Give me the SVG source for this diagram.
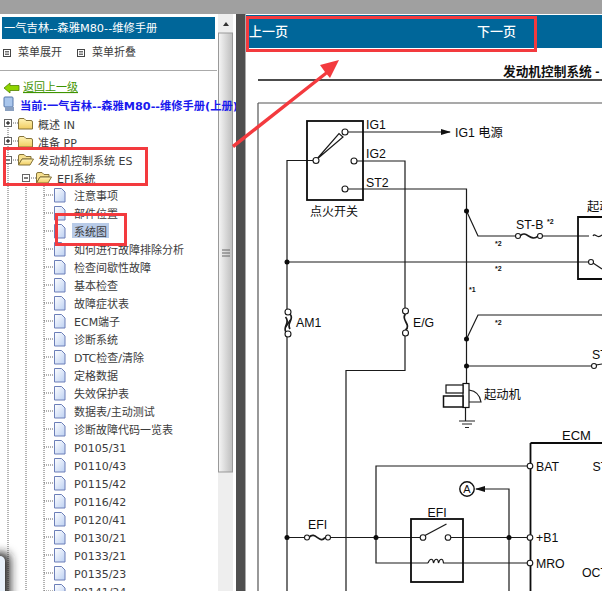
<svg xmlns="http://www.w3.org/2000/svg" width="602" height="591" viewBox="0 0 602 591">
<defs>
<linearGradient id="pg" x1="0" y1="0" x2="1" y2="1"><stop offset="0" stop-color="#ffffff"/><stop offset="1" stop-color="#bcd0f2"/></linearGradient>
<linearGradient id="fg" x1="0" y1="0" x2="0" y2="1"><stop offset="0" stop-color="#fff4b8"/><stop offset="1" stop-color="#f0cc60"/></linearGradient>
<linearGradient id="sb" x1="0" y1="0" x2="1" y2="0"><stop offset="0" stop-color="#f6f6f6"/><stop offset="1" stop-color="#bdbdbd"/></linearGradient>
<filter id="blur" x="-100%" y="-20%" width="300%" height="140%"><feGaussianBlur stdDeviation="5"/></filter>
<g id="page"><path d="M.5 .5H7.5L11 4V14H.5Z" fill="url(#pg)" stroke="#6c7fb8"/></g>
<g id="folder"><path d="M.5 3Q.5 1.500 2 1.500H6L8 3.500H13Q14.500 3.500 14.500 5V12H.5Z" fill="url(#fg)" stroke="#85733a"/></g>
<g id="ofolder"><path d="M.5 12V3Q.5 1.500 2 1.500H6L8 3.500H13V6H4Z" fill="#f7e08e" stroke="#85733a"/><path d="M.5 12L4 6H15.500L12 12Z" fill="url(#fg)" stroke="#85733a"/></g>
<g id="plus"><rect x=".5" y=".5" width="7" height="7" fill="#fff" stroke="#666"/><path d="M2 4H6M4 2V6" stroke="#000"/></g>
<g id="minus"><rect x=".5" y=".5" width="7" height="7" fill="#fff" stroke="#666"/><path d="M2 4H6" stroke="#000"/></g>
<g id="menuic"><rect x=".5" y=".5" width="7" height="7" fill="#fff" stroke="#444"/><path d="M2 2.500H6M2 4H6M2 5.500H6" stroke="#333" stroke-width=".7"/></g>
<marker id="ah" markerWidth="10" markerHeight="6" refX="9" refY="3" orient="auto" markerUnits="userSpaceOnUse"><path d="M0 0L10 3L0 6Z" fill="#111"/></marker>
</defs>
<style>
text{font-family:"Liberation Sans","Noto Sans CJK SC",sans-serif}
.t,.tn{font-size:11px;fill:#3c3c3c;font-family:"DejaVu Sans","Noto Sans CJK SC",sans-serif}
.w{fill:none;stroke:#1a1a1a;stroke-width:1.2}
.b{fill:none;stroke:#0c0c0c;stroke-width:1.8}
.g{fill:none;stroke:#555;stroke-width:1.2}
.o{fill:#fff;stroke:#1a1a1a;stroke-width:1.1}
.d{fill:#0c0c0c}
.l{font-size:12.3px;fill:#0c0c0c}
.s{font-size:7px;font-weight:bold;fill:#111}
.dot{fill:none;stroke:#666;stroke-width:1;stroke-dasharray:1 1}
.red{fill:none;stroke:#f33a3e;stroke-width:3}
.fz{fill:none;stroke:#1a1a1a;stroke-width:1.700}
</style>
<rect width="602" height="591" fill="#fff"/>
<rect width="602" height="14" fill="#a0a0a0"/>
<g id="sidebar">
<rect x="2" y="17" width="213" height="22" fill="#006699"/>
<text x="4" y="32" font-size="11.3" fill="#fff" style="font-family:'DejaVu Sans','Noto Sans CJK SC',sans-serif">一气吉林--森雅M80--维修手册</text>
<use href="#menuic" x="3" y="49"/><text x="18" y="56" class="t">菜单展开</text>
<use href="#menuic" x="77" y="49"/><text x="92" y="56" class="t">菜单折叠</text>
<rect x="0" y="70" width="217" height="1" fill="#aaa"/>
<path d="M4 88L10 83V85.500H19V90.500H10V93Z" fill="#8fd400" stroke="#4f8000" stroke-width=".8"/>
<text x="23" y="91" class="t" style="fill:#3f9400;text-decoration:underline">返回上一级</text>
<rect x="4" y="97" width="9" height="10" rx="1" fill="#a9c6ec" stroke="#5577aa"/><rect x="5" y="107" width="9" height="4" fill="#8aa0c0"/>
<rect x="218" y="14" width="15" height="577" fill="#eeeeee"/>
<path d="M223 26L226 22L229 26Z" fill="#333"/>
<rect x="218.500" y="33" width="14" height="439" fill="url(#sb)" stroke="#999"/>
<path d="M222 250H230M222 253H230M222 256H230" stroke="#666"/>
<text x="20" y="110" font-size="11.25" font-weight="bold" fill="#1a1aee" style="font-family:'DejaVu Sans','Noto Sans CJK SC',sans-serif">当前:一气吉林--森雅M80--维修手册(上册)</text>
<path class="dot" d="M8 126V591M26 181V591M44 186V591"/>
<path class="dot" d="M11 123H18M11 141H18M11 160H18M29 178H36M44 195H54M44 213H54M44 231H54M44 249H54M44 267H54M44 285H54M44 303H54M44 321H54M44 339H54M44 357H54M44 375H54M44 393H54M44 411H54M44 429H54M44 447H54M44 465H54M44 483H54M44 501H54M44 519H54M44 537H54M44 555H54M44 573H54M44 591H54"/>
<use href="#plus" x="4" y="119"/><use href="#folder" x="18" y="117"/><text x="38" y="129" class="tn">概述 IN</text>
<use href="#plus" x="4" y="137"/><use href="#folder" x="18" y="135"/><text x="38" y="147" class="tn">准备 PP</text>
<use href="#minus" x="4" y="156"/><use href="#ofolder" x="18" y="153"/><text x="38" y="165" class="tn">发动机控制系统 ES</text>
<use href="#minus" x="22" y="174"/><use href="#ofolder" x="36" y="171"/><text x="57" y="183" class="tn">EFI系统</text>
<use href="#page" x="54" y="188"/><text x="74" y="200" class="tn">注意事项</text>
<use href="#page" x="54" y="206"/><text x="74" y="218" class="tn">部件位置</text>
<use href="#page" x="54" y="224"/><rect x="72" y="223" width="37" height="15" fill="#b8cbe8"/><text x="74" y="236" class="tn">系统图</text>
<use href="#page" x="54" y="242"/><text x="74" y="254" class="tn">如何进行故障排除分析</text>
<use href="#page" x="54" y="260"/><text x="74" y="272" class="tn">检查间歇性故障</text>
<use href="#page" x="54" y="278"/><text x="74" y="290" class="tn">基本检查</text>
<use href="#page" x="54" y="296"/><text x="74" y="308" class="tn">故障症状表</text>
<use href="#page" x="54" y="314"/><text x="74" y="326" class="tn">ECM端子</text>
<use href="#page" x="54" y="332"/><text x="74" y="344" class="tn">诊断系统</text>
<use href="#page" x="54" y="350"/><text x="74" y="362" class="tn">DTC检查/清除</text>
<use href="#page" x="54" y="368"/><text x="74" y="380" class="tn">定格数据</text>
<use href="#page" x="54" y="386"/><text x="74" y="398" class="tn">失效保护表</text>
<use href="#page" x="54" y="404"/><text x="74" y="416" class="tn">数据表/主动测试</text>
<use href="#page" x="54" y="422"/><text x="74" y="434" class="tn">诊断故障代码一览表</text>
<use href="#page" x="54" y="440"/><text x="74" y="452" class="tn">P0105/31</text>
<use href="#page" x="54" y="458"/><text x="74" y="470" class="tn">P0110/43</text>
<use href="#page" x="54" y="476"/><text x="74" y="488" class="tn">P0115/42</text>
<use href="#page" x="54" y="494"/><text x="74" y="506" class="tn">P0116/42</text>
<use href="#page" x="54" y="512"/><text x="74" y="524" class="tn">P0120/41</text>
<use href="#page" x="54" y="530"/><text x="74" y="542" class="tn">P0130/21</text>
<use href="#page" x="54" y="548"/><text x="74" y="560" class="tn">P0133/21</text>
<use href="#page" x="54" y="566"/><text x="74" y="578" class="tn">P0135/23</text>
<use href="#page" x="54" y="584"/><text x="74" y="596" class="tn">P0141/24</text>
<rect x="-20" y="553" width="30" height="60" rx="6" fill="#222" filter="url(#blur)"/>
<rect x="-10" y="556" width="15" height="50" rx="5" fill="#e8f1fb"/>
</g>
<rect x="236" y="14" width="9" height="577" fill="#4f4f4f"/>
<rect x="245" y="14" width="1" height="577" fill="#aaa"/>
<g id="topbar">
<rect x="246" y="15" width="356" height="33" fill="#006699"/>
<text x="249" y="36" font-size="13" font-weight="500" fill="#fff" style="font-family:'Noto Sans CJK SC',sans-serif">上一页</text>
<text x="477" y="36" font-size="13" font-weight="500" fill="#fff" style="font-family:'Noto Sans CJK SC',sans-serif">下一页</text>
</g>
<g id="connectors">
<text x="503" y="76" font-size="12.7" fill="#111" font-weight="bold">发动机控制系统 -</text>
<path d="M258 80H602" stroke="#111" stroke-width="1.5"/>
<path class="g" d="M258 103H602M258 103V591"/>
<path class="w" d="M348 132H450" marker-end="url(#ah)"/>
<path class="w" d="M313 160.500H287V309M287 337V591M357 161H405V308M405 336V370.500H346V591"/>
<path class="w" d="M348 189H466.500V384"/>
<path class="w" d="M466.500 211L478 236H516M542 236H589"/>
<path class="w" d="M287 262H589"/>
<path class="w" d="M466.500 339L478 315H602"/>
<path class="w" d="M466.500 366H592"/>
<path class="w" d="M465.500 408V421"/>
<path class="w" d="M287 537.500H304M330 537.500H420M451 537.500H527"/>
<path class="w" d="M376 537.500V466H527M376 537.500V563H428M446 563H527"/>
<path class="w" d="M509 591V489H476" marker-end="url(#ah)"/>
</g>
<g id="ignition-switch">
<rect x="307" y="121" width="56" height="79" class="b"/>
<path class="w" d="M316 160L339 133.500L343 137Z"/>
<circle cx="345" cy="132" r="3" class="o"/><circle cx="316" cy="160.500" r="3" class="o"/><circle cx="354" cy="161" r="3" class="o"/><circle cx="345" cy="189" r="3" class="o"/>
<text x="366" y="129" class="l">IG1</text><text x="366" y="158" class="l">IG2</text><text x="366" y="187" class="l">ST2</text>
<text x="310" y="216" font-size="12" fill="#111">点火开关</text>
<text x="455" y="137" class="l">IG1 电源</text>
</g>
<g id="junctions">
<circle cx="287" cy="262" r="2.500" class="d"/><circle cx="466.500" cy="211" r="2.500" class="d"/><circle cx="466.500" cy="339" r="2.500" class="d"/><circle cx="466.500" cy="366" r="2.500" class="d"/>
<circle cx="287" cy="537.500" r="2.500" class="d"/><circle cx="376" cy="537.500" r="2.500" class="d"/><circle cx="509" cy="537.500" r="2.500" class="d"/>
</g>
<g id="fuses">
<path class="fz" d="M286 332C282 327 291 323 285.500 317M290 329C286 323 295 319 290 314"/><path class="fz" d="M285.500 327L290.500 320"/><circle cx="288" cy="312" r="3" class="o"/><circle cx="288" cy="334" r="3" class="o"/><text x="296" y="327" class="l">AM1</text>
<path class="fz" d="M405.500 314C400 319 412 325 405.500 330"/><circle cx="405.500" cy="311" r="3" class="o"/><circle cx="405.500" cy="333" r="3" class="o"/><text x="413" y="327" class="l">E/G</text>
<path class="fz" d="M520 236C526 229 531 243 538 236"/><circle cx="518" cy="236" r="2.500" class="o"/><circle cx="540" cy="236" r="2.500" class="o"/><text x="516" y="229" class="l">ST-B</text><text x="547" y="224" class="s">*2</text>
<path class="fz" d="M309 537.500C315 530 320 545 325 537.500"/><circle cx="307" cy="537.500" r="2.500" class="o"/><circle cx="328" cy="537.500" r="2.500" class="o"/><text x="308" y="529" class="l">EFI</text>
</g>
<g id="notes">
<text x="495" y="246" class="s">*2</text><text x="495" y="271" class="s">*2</text><text x="469" y="292" class="s">*1</text><text x="495" y="325" class="s">*2</text>
</g>
<g id="starter-relay">
<path class="b" d="M602 217H578V279H602"/>
<text x="587" y="211" class="l">起动</text>
<path class="w" d="M593 236C595 232 597 240 602 235"/>
<circle cx="591" cy="262" r="2.500" class="o"/><path class="w" d="M593 263L602 269"/>
<text x="592" y="359" class="l">ST</text><circle cx="594" cy="366" r="2.500" class="o"/><path class="w" d="M596 365L602 364"/>
</g>
<g id="starter">
<rect x="463" y="383.500" width="6" height="24" fill="#fff" stroke="#111" stroke-width="1.200"/>
<rect x="446" y="385" width="17" height="8" fill="#fff" stroke="#111" stroke-width="1.200"/><rect x="443.500" y="396" width="19.500" height="11" fill="#fff" stroke="#111" stroke-width="1.500"/>
<path class="w" d="M469 390C476 391 480 395 481 402H469"/>
<path d="M459 421H475M462 424H472M465 427.500H469" stroke="#222" stroke-width="1.200"/>
<text x="484" y="399" class="l">起动机</text>
</g>
<g id="ecm">
<path class="b" d="M530.500 443H602M530.500 443V591"/>
<text x="562" y="440" class="l" style="font-size:13px">ECM</text>
<circle cx="530" cy="466" r="2.800" class="o"/><text x="536" y="471" class="l">BAT</text><text x="592.500" y="471" class="l">ST</text>
<circle cx="530" cy="537.500" r="2.800" class="o"/><text x="536" y="542" class="l">+B1</text>
<circle cx="530" cy="563" r="2.800" class="o"/><text x="536" y="568" class="l">MRO</text><text x="582" y="577" class="l">OCT</text>
</g>
<g id="efi-relay">
<rect x="411" y="519" width="52" height="63" class="b"/>
<text x="427.500" y="517" class="l">EFI</text>
<path class="w" d="M424 536L446.500 524"/>
<circle cx="423" cy="537.500" r="2.800" class="o"/><circle cx="448" cy="537.500" r="2.800" class="o"/>
<path class="w" d="M428 563C430 558 433 558 433.500 563C435 558 438 558 438.500 563C440 558 443 558 443.500 563H446"/>
</g>
<g id="connector-a">
<circle cx="467" cy="489" r="7.200" fill="#fff" stroke="#111" stroke-width="1.400"/><text x="467" y="493" text-anchor="middle" font-size="11" fill="#111">A</text>
</g>
<g id="callouts">
<rect x="4.500" y="148.500" width="142" height="36" class="red"/>
<rect x="56.500" y="214.500" width="69" height="30" class="red"/>
<rect x="247.500" y="17.500" width="288" height="33" class="red"/>
<path d="M232 145L325 72L320 65L339 60L330 78L327 74.500L234 148Z" fill="#f33a3e"/>
</g>
</svg>
